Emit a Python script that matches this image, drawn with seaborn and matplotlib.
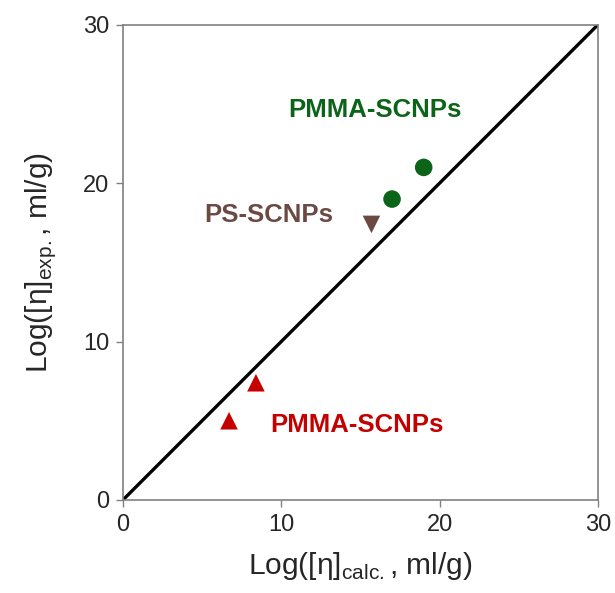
import matplotlib
matplotlib.use("Agg")
import matplotlib.pyplot as plt
import seaborn as sns
import pandas as pd

sns.set_theme(style="ticks")
plt.rcParams['font.family'] = ['Liberation Sans', 'DejaVu Sans']
plt.rcParams['mathtext.fontset'] = 'custom'
plt.rcParams['mathtext.rm'] = 'Liberation Sans'

calc = [17.0, 19.0, 15.7, 6.7, 8.4]
expt = [19.0, 21.0, 17.4, 5.0, 7.4]
group = ["PMMA-SCNPs (green)", "PMMA-SCNPs (green)", "PS-SCNPs", "PMMA-SCNPs (red)", "PMMA-SCNPs (red)"]
line_x = [0, 30]
line_y = [0, 30]
ticks = [0, 10, 20, 30]

df = pd.DataFrame({"calc": calc, "exp": expt, "group": group})
palette = {"PMMA-SCNPs (green)": "#0b6418", "PS-SCNPs": "#6b4a44", "PMMA-SCNPs (red)": "#c50000"}
markers = {"PMMA-SCNPs (green)": "o", "PS-SCNPs": "v", "PMMA-SCNPs (red)": "^"}

fig = plt.figure(figsize=(6.15, 5.93), dpi=100)
ax = fig.add_axes([0.2, 0.157, 0.772, 0.801])
sns.lineplot(x=line_x, y=line_y, ax=ax, color="black", linewidth=2.4)
sns.scatterplot(data=df, x="calc", y="exp", hue="group", style="group",
                palette=palette, markers=markers, s=160, edgecolor="none",
                ax=ax, legend=False, zorder=3)

ax.set_xlim(0, 30)
ax.set_ylim(0, 30)
ax.set_xticks(ticks)
ax.set_yticks(ticks)
ax.tick_params(labelsize=17, length=5, width=1, color="#808080", direction="out", pad=5)
for s in ax.spines.values():
    s.set_color("#808080")
    s.set_linewidth(1.2)
    s.set_visible(True)

ax.set_xlabel(r"Log([$\mathregular{\eta}$]$_{\mathregular{calc.}}$, ml/g)", fontsize=21.5, labelpad=10)
ax.set_ylabel(r"Log([$\mathregular{\eta}$]$_{\mathregular{exp.}}$, ml/g)", fontsize=21.5, labelpad=18)

ax.text(15.9, 24.6, "PMMA-SCNPs", color="#0b6418", fontsize=18.5, fontweight="bold", ha="center", va="center")
ax.text(9.2, 18.0, "PS-SCNPs", color="#6b4a44", fontsize=18.5, fontweight="bold", ha="center", va="center")
ax.text(14.8, 4.7, "PMMA-SCNPs", color="#c50000", fontsize=18.5, fontweight="bold", ha="center", va="center")

fig.savefig("out.png", dpi=100)
